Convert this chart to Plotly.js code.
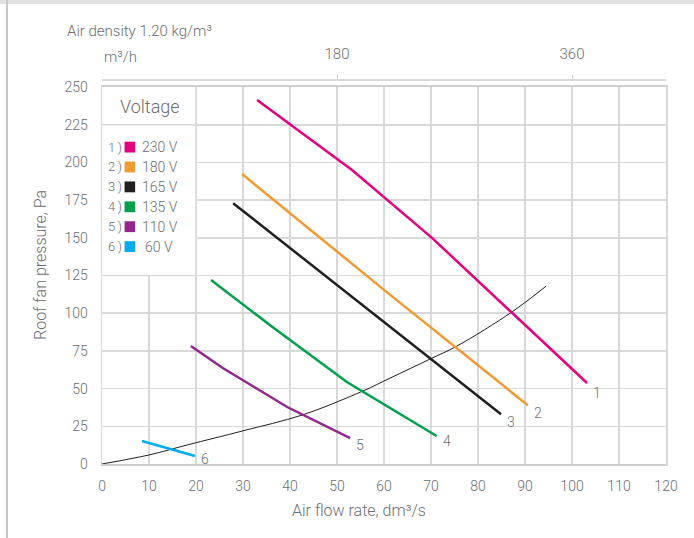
<!DOCTYPE html>
<html>
<head>
<meta charset="utf-8">
<script src="https://cdn.plot.ly/plotly-3.0.1.min.js"></script>
<style>
  html, body { margin: 0; padding: 0; background: #fff; }
  #frame { position: absolute; left: 0; top: 0; width: 694px; height: 538px; box-sizing: border-box;
           border-top: 4px solid #e2e2e2; }
  #leftline { position: absolute; left: 6px; top: 0; width: 2px; height: 538px; background: #c8c8c8; }
  #chart { position: absolute; left: 0; top: 0; width: 694px; height: 538px; }
</style>
</head>
<body>
<div id="frame"></div>
<div id="leftline"></div>
<div id="chart"></div>
<script>
// ---- data ----
const voltages = ['230 V', '180 V', '165 V', '135 V', '110 V', '60 V'];
const seriesColors = ['#e6007e', '#f39a32', '#231f20', '#00a14b', '#92278f', '#00aeef'];

const flow230 = [33.0, 53.2, 70.2, 103.2];
const pres230 = [241.4, 195, 150, 53.7];
const flow180 = [29.8, 60.0, 90.6];
const pres180 = [192.3, 115.5, 39];
const flow165 = [27.9, 50.6, 84.9];
const pres165 = [173, 117, 33];
const flow135 = [23.2, 36.2, 52.1, 71.2];
const pres135 = [122, 91, 54.4, 18.6];
const flow110 = [18.9, 25.7, 39.4, 52.8];
const pres110 = [78.3, 63.7, 37.8, 17.2];
const flow60 = [8.5, 19.8];
const pres60 = [15.3, 5.3];

const sysFlow = [0, 10, 18.1, 30, 42.6, 55.5, 61.3, 69.8, 75.5, 87.2, 94.5];
const sysPres = [0, 6, 12.6, 22, 32.5, 48.4, 57, 69.6, 78.2, 100.8, 118];

const xTicks = [0, 10, 20, 30, 40, 50, 60, 70, 80, 90, 100, 110, 120];
const yTicks = [0, 25, 50, 75, 100, 125, 150, 175, 200, 225, 250];
const topTicks = [180, 360];      // m3/h
const M3H_PER_DMS = 3.6;

// ---- chart ----
const flows = [flow230, flow180, flow165, flow135, flow110, flow60];
const press = [pres230, pres180, pres165, pres135, pres110, pres60];
const labelYShift = [-10, -8, -8, -5, -7, -3];
const FONT = 'Roboto, "Open Sans", sans-serif';
const TXT = '#6d6e71';
const GRID = '#d9d9d9';

const traces = [];
traces.push({
  x: sysFlow, y: sysPres, type: 'scatter', mode: 'lines',
  line: { color: '#231f20', width: 1, shape: 'spline' },
  hoverinfo: 'skip', showlegend: false
});
flows.forEach((fx, i) => {
  traces.push({
    x: fx, y: press[i], type: 'scatter', mode: 'lines', name: voltages[i],
    line: { color: seriesColors[i], width: 2.5 },
    showlegend: false
  });
});
// invisible trace to activate top axis
traces.push({ x: [0, 120 * M3H_PER_DMS], y: [null, null], xaxis: 'x2', yaxis: 'y',
  type: 'scatter', mode: 'lines', showlegend: false, hoverinfo: 'skip' });

const annotations = [];
// end labels
flows.forEach((fx, i) => {
  annotations.push({
    x: fx[fx.length - 1], y: press[i][press[i].length - 1], xref: 'x', yref: 'y',
    text: String(i + 1), showarrow: false, xanchor: 'center', yanchor: 'middle',
    xshift: 10, yshift: labelYShift[i], font: { family: FONT, size: 14, color: TXT, weight: 300 }
  });
});
// legend box contents
annotations.push({ x: 10.2, y: 237, xref: 'x', yref: 'y', text: 'Voltage', showarrow: false,
  xanchor: 'center', yanchor: 'middle', font: { family: FONT, size: 18, color: TXT, weight: 300 } });
const legY0 = 210.2, legStep = 13.2;
const shapes = [];
shapes.push({ type: 'rect', xref: 'x', yref: 'y', x0: 0, x1: 20, y0: 125, y1: 250,
  fillcolor: '#ffffff', line: { width: 0 }, layer: 'between' });
shapes.push({ type: 'line', xref: 'x', yref: 'y', x0: 0, x1: 20, y0: 225, y1: 225,
  line: { color: GRID, width: 1.5 }, layer: 'between' });
shapes.push({ type: 'line', xref: 'x', yref: 'y', x0: 20, x1: 20, y0: 125, y1: 250,
  line: { color: GRID, width: 1.5 }, layer: 'between' });
shapes.push({ type: 'line', xref: 'x', yref: 'y', x0: 0, x1: 20, y0: 125, y1: 125,
  line: { color: GRID, width: 1.5 }, layer: 'between' });
voltages.forEach((v, i) => {
  const yy = legY0 - i * legStep;
  annotations.push({ x: 0.75, y: yy, xref: 'x', yref: 'y', text: (i + 1) + '\u2009)', showarrow: false,
    xanchor: 'left', yanchor: 'middle', font: { family: FONT, size: 13, color: TXT, weight: 300 } });
  annotations.push({ x: v.length < 5 ? 8.8 : 8.0, y: yy, xref: 'x', yref: 'y', text: v, showarrow: false,
    xanchor: 'left', yanchor: 'middle', font: { family: FONT, size: 14, color: TXT, weight: 300 } });
  shapes.push({ type: 'rect', xref: 'x', yref: 'y', x0: 4.8, x1: 7.05, y0: yy - 3.6, y1: yy + 3.6,
    fillcolor: seriesColors[i], line: { width: 0 }, layer: 'above' });
});
// titles and top labels
annotations.push({ x: -0.066, y: 1.125, xref: 'paper', yref: 'paper', text: 'Air density 1.20 kg/m³',
  showarrow: false, xanchor: 'left', yanchor: 'middle', font: { family: FONT, size: 15, color: TXT, weight: 300 } });
annotations.push({ x: 0.0, y: 1.057, xref: 'paper', yref: 'paper', text: 'm³/h',
  showarrow: false, xanchor: 'left', yanchor: 'middle', font: { family: FONT, size: 15, color: TXT, weight: 300 } });
annotations.push({ x: (359 - 102) / 564, y: -0.12, xref: 'paper', yref: 'paper', text: 'Air flow rate, dm³/s',
  showarrow: false, xanchor: 'center', yanchor: 'middle', font: { family: FONT, size: 16, color: TXT, weight: 300 } });
annotations.push({ x: (40 - 102) / 564, y: (464 - 265) / 385, xref: 'paper', yref: 'paper',
  text: 'Roof fan pressure, Pa', textangle: -90,
  showarrow: false, xanchor: 'center', yanchor: 'middle', font: { family: FONT, size: 16, color: TXT, weight: 300 } });

const layout = {
  width: 694, height: 538,
  margin: { l: 102, r: 28, t: 79, b: 74 },
  paper_bgcolor: 'rgba(0,0,0,0)', plot_bgcolor: '#ffffff',
  font: { family: FONT, color: TXT, size: 13 },
  showlegend: false,
  xaxis: {
    range: [0, 120], tickvals: xTicks, ticktext: xTicks.map(String),
    showgrid: true, gridcolor: GRID, gridwidth: 1.5, zeroline: false,
    showline: true, linecolor: '#cfcfcf', linewidth: 2, mirror: true,
    ticks: '', ticklabelstandoff: 8, tickfont: { family: FONT, size: 14, color: TXT, weight: 300 },
    fixedrange: true
  },
  yaxis: {
    range: [0, 250], tickvals: yTicks, ticktext: yTicks.map(String), domain: [0, 0.979],
    showgrid: true, gridcolor: GRID, gridwidth: 1.5, zeroline: false,
    showline: true, linecolor: '#d9d9d9', linewidth: 1.5, mirror: true,
    ticks: '', ticklabelstandoff: 10, tickfont: { family: FONT, size: 14, color: TXT, weight: 300 },
    fixedrange: true
  },
  xaxis2: {
    overlaying: 'x', side: 'top', anchor: 'free', position: 1,
    range: [0, 120 * M3H_PER_DMS], tickvals: topTicks, ticktext: topTicks.map(String),
    showgrid: false, zeroline: false, showline: true, linecolor: '#d9d9d9', linewidth: 1.5,
    ticks: 'outside', ticklen: 4, tickcolor: '#d0d0d0', tickwidth: 1,
    ticklabelstandoff: 10, tickfont: { family: FONT, size: 15, color: TXT, weight: 300 }, fixedrange: true
  },
  shapes: shapes,
  annotations: annotations
};

Plotly.newPlot('chart', traces, layout, { displayModeBar: false, staticPlot: true });
</script>
</body>
</html>
